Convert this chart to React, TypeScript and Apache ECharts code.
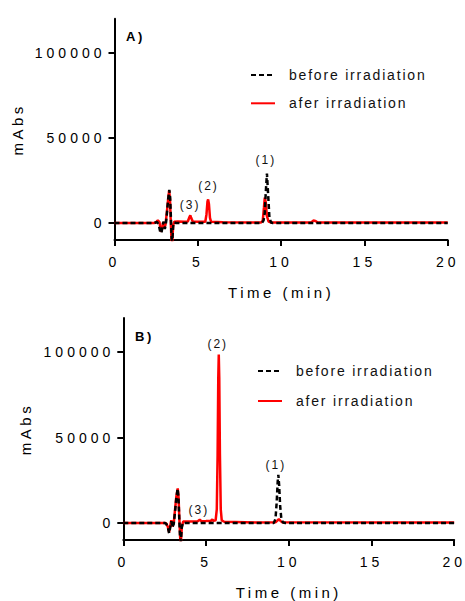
import React, { useEffect, useRef } from 'react';
import * as echarts from 'echarts';

const seriesNames = ['before irradiation', 'afer irradiation'];
const yTickValues = [0, 50000, 100000];

// Panel A – before irradiation (black dashed)
const tA_before = [0, 2.4, 2.55, 2.65, 2.75, 2.82, 2.88, 2.95, 3.02, 3.08, 3.15, 3.22, 3.29, 3.34, 3.39, 3.43, 3.47, 3.52, 3.58, 3.7, 8.85, 8.95, 9.02, 9.08, 9.15, 9.22, 9.3, 9.4, 9.5, 20];
const vA_before = [0, 0, 600, -800, -5500, -6000, -1500, 800, -3500, -1000, 6000, 14000, 19500, 15000, 2000, -9000, -10500, -2000, 300, 0, 0, 1500, 6000, 18000, 29000, 17000, 3000, 300, 0, 0];

// Panel A – after irradiation (red)
const tA_after = [0, 2.4, 2.5, 2.6, 2.7, 2.78, 2.85, 2.92, 3.0, 3.06, 3.15, 3.22, 3.28, 3.33, 3.38, 3.42, 3.47, 3.52, 3.58, 3.8, 4.2, 4.4, 4.5, 4.55, 4.6, 4.7, 5.0, 5.45, 5.52, 5.58, 5.62, 5.67, 5.73, 5.8, 6.5, 8.8, 8.9, 8.97, 9.02, 9.08, 9.15, 9.25, 9.4, 11.8, 11.95, 12.05, 12.2, 20];
const vA_after = [0, 0, 500, 1500, 500, -5000, -4000, 500, -2500, -1000, 7000, 14000, 19000, 14000, 0, -10000, -11000, -1500, 700, 800, 700, 900, 3500, 4500, 3000, 800, 700, 700, 5000, 12500, 13800, 11000, 3000, 700, 500, 300, 1500, 9000, 14900, 12000, 4000, 800, 300, 300, 1400, 1200, 300, 300];

// Panel B – before irradiation (black dashed)
const tB_before = [0, 2.5, 2.6, 2.7, 2.77, 2.83, 2.9, 2.97, 3.05, 3.12, 3.2, 3.28, 3.33, 3.38, 3.43, 3.48, 3.53, 3.6, 9.1, 9.2, 9.27, 9.33, 9.37, 9.42, 9.48, 9.55, 9.65, 9.8, 20];
const vB_before = [0, 0, -500, -3000, -6000, -3000, 1000, -2500, -500, 6000, 14000, 20000, 16000, 3000, -8000, -11000, -3000, 0, 0, 2500, 12000, 24000, 28200, 22000, 10000, 2500, 300, 0, 0];

// Panel B – after irradiation (red)
const tB_after = [0, 2.5, 2.6, 2.7, 2.77, 2.83, 2.9, 2.97, 3.05, 3.12, 3.2, 3.29, 3.34, 3.39, 3.44, 3.48, 3.54, 3.62, 4.0, 4.5, 4.62, 4.72, 5.0, 5.3, 5.38, 5.45, 5.58, 5.65, 5.7, 5.74, 5.77, 5.8, 5.84, 5.89, 5.95, 6.1, 8.0, 9.2, 9.3, 9.4, 9.5, 9.6, 20];
const vB_after = [0, 0, -300, -2500, -5500, -2000, 1500, -2000, 0, 7000, 15000, 20200, 15000, 2000, -9000, -11000, -2000, 800, 900, 1000, 1900, 1000, 1100, 1300, 2000, 1200, 1500, 8000, 40000, 85000, 98600, 85000, 40000, 8000, 1500, 700, 300, 400, 1200, 2200, 1200, 400, 300];

// Peak annotations
const peakTextA = ['(1)', '(2)', '(3)'];
const peakTA = [9.09, 5.64, 4.54];
const peakVA = [36900, 21600, 10400];
const peakTextB = ['(1)', '(2)', '(3)'];
const peakTB = [9.22, 5.71, 4.57];
const peakVB = [33900, 104700, 7800];

const panelLabels = ['A)', 'B)'];

const F_TICK = 'Liberation Sans, Arial';
const F_NAME = 'Liberation Sans, Helvetica';
const F_LEG = 'Liberation Sans, sans-serif';
const F_PEAK = 'Liberation Sans, Verdana';
const F_TITLE = 'Liberation Sans, Georgia';

const css = `
#chartbox text[style*="Arial"] { letter-spacing: 4px; }
#chartbox text[style*="Helvetica"] { letter-spacing: 3.5px; }
#chartbox text[style*="sans-serif"] { letter-spacing: 1.8px; }
#chartbox text[style*="Verdana"] { letter-spacing: 2px; }
#chartbox text[style*="Georgia"] { letter-spacing: 2.5px; }
`;

const zip = (t: number[], v: number[]) => t.map((x, i) => [x, v[i]]);

function xAxisFor(gridIndex: number) {
  return {
    type: 'value', gridIndex, min: 0, max: 20, interval: 5,
    name: 'Time (min)', nameLocation: 'middle', nameGap: 45,
    nameTextStyle: { fontSize: 15, color: '#000', fontFamily: F_NAME },
    axisLine: { onZero: false, lineStyle: { color: '#000', width: 2 } },
    axisTick: { show: true, length: 6, lineStyle: { color: '#000', width: 2 } },
    axisLabel: { fontSize: 14, color: '#000', margin: 15, fontFamily: F_TICK },
    splitLine: { show: false },
  };
}

function yAxisFor(gridIndex: number) {
  return {
    type: 'value', gridIndex, min: -10000, max: 120000,
    name: 'mAbs', nameLocation: 'middle', nameGap: 90,
    nameTextStyle: { fontSize: 15, color: '#000', fontFamily: F_NAME },
    axisLine: { show: true, onZero: false, lineStyle: { color: '#000', width: 2 } },
    axisTick: { show: true, length: 6, customValues: yTickValues, lineStyle: { color: '#000', width: 2 } },
    axisLabel: {
      customValues: yTickValues, fontSize: 14, color: '#000', margin: 9, fontFamily: F_TICK,
      formatter: (v: number) => String(v),
    },
    splitLine: { show: false },
  };
}

function lineSeries(name: string, idx: number, t: number[], v: number[], dashed: boolean) {
  return {
    type: 'line', name, xAxisIndex: idx, yAxisIndex: idx,
    data: zip(t, v), symbol: 'none', showSymbol: false,
    lineStyle: dashed ? { color: '#000', width: 2.5, type: [5, 3] } : { color: '#ff0000', width: 2.5 },
    itemStyle: { color: dashed ? '#000' : '#ff0000' },
    z: dashed ? 3 : 2,
  };
}

function labelSeries(idx: number, texts: string[], t: number[], v: number[]) {
  return {
    type: 'scatter', xAxisIndex: idx, yAxisIndex: idx, symbolSize: 1, silent: true,
    itemStyle: { color: '#fff', opacity: 0 },
    data: texts.map((s, i) => ({ name: s, value: [t[i], v[i]] })),
    label: {
      show: true, position: 'inside', formatter: '{p|{b}}', opacity: 1,
      rich: { p: { fontSize: 12, color: '#111', fontFamily: F_PEAK, textBorderWidth: 0 } },
    },
  };
}

function legendFor(left: number, top: number, gap: number) {
  return {
    left, top, padding: 0, orient: 'vertical', itemWidth: 24, itemHeight: 14, itemGap: gap,
    data: seriesNames, selectedMode: false,
    itemStyle: { opacity: 0 },
    textStyle: { fontSize: 14, color: '#111', fontFamily: F_LEG, padding: [0, 0, 0, 9] },
  };
}

export default function App() {
  const ref = useRef<HTMLDivElement>(null);
  useEffect(() => {
    if (!ref.current) return;
    const chart = echarts.init(ref.current, undefined, { renderer: 'svg' });
    chart.setOption({
      animation: false,
      backgroundColor: '#fff',
      title: [
        { text: panelLabels[0], left: 126, top: 30, padding: 0, textStyle: { fontSize: 13, fontWeight: 'bold', color: '#000', fontFamily: F_TITLE } },
        { text: panelLabels[1], left: 135, top: 330, padding: 0, textStyle: { fontSize: 13, fontWeight: 'bold', color: '#000', fontFamily: F_TITLE } },
      ],
      legend: [legendFor(250, 68, 14.3), legendFor(257, 364, 16)],
      grid: [
        { left: 114.5, top: 18.7, width: 333.2, height: 221.3 },
        { left: 123.3, top: 318, width: 332.7, height: 222 },
      ],
      xAxis: [xAxisFor(0), xAxisFor(1)],
      yAxis: [yAxisFor(0), yAxisFor(1)],
      series: [
        lineSeries(seriesNames[1], 0, tA_after, vA_after, false),
        lineSeries(seriesNames[0], 0, tA_before, vA_before, true),
        lineSeries(seriesNames[1], 1, tB_after, vB_after, false),
        lineSeries(seriesNames[0], 1, tB_before, vB_before, true),
        labelSeries(0, peakTextA, peakTA, peakVA),
        labelSeries(1, peakTextB, peakTB, peakVB),
      ],
    });
    return () => chart.dispose();
  }, []);
  return (
    <div id="chartbox" style={{ position: 'absolute', left: 0, top: 0, width: 465, height: 601, background: '#fff' }}>
      <style>{css}</style>
      <div ref={ref} style={{ width: 465, height: 601 }} />
    </div>
  );
}
